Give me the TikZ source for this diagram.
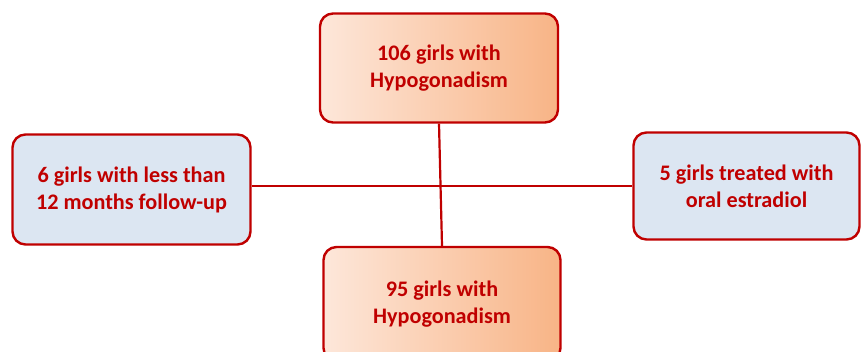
\documentclass[tikz,border=0pt]{standalone}
\usepackage{fontspec}
\setmainfont{Carlito}
\definecolor{bred}{HTML}{C00000}
\definecolor{oL}{HTML}{FDE7DA}
\definecolor{oR}{HTML}{F8B486}
\definecolor{bfill}{HTML}{DCE6F2}
\tikzset{
  box/.style={draw=bred, line width=2.4pt, rounded corners=13pt, align=center,
    text=bred, font=\fontsize{22.2}{27}\selectfont\bfseries, inner sep=0pt},
  obox/.style={box, left color=oL, right color=oR},
  bbox/.style={box, fill=bfill},
  link/.style={draw=bred, line width=2.2pt}
}
\begin{document}
\begin{tikzpicture}[x=1pt,y=-1pt]
\useasboundingbox (0,0) rectangle (861,351);
\fill[white] (0,0) rectangle (861,351);
\node[obox, minimum width=238pt, minimum height=109pt] (top) at (439,68) {106 girls with\\Hypogonadism};
\node[bbox, minimum width=238pt, minimum height=110pt] (left) at (131.5,189.5) {6 girls with less than\\12 months follow-up};
\node[bbox, minimum width=226pt, minimum height=107pt] (right) at (746.5,186) {5 girls treated with\\oral estradiol};
\node[obox, minimum width=237pt, minimum height=114pt] (bot) at (442,304) {95 girls with\\Hypogonadism};
\draw[link] (top.south) -- (bot.north);
\draw[link] (left.east |- right.west) -- (right.west);
\end{tikzpicture}
\end{document}
